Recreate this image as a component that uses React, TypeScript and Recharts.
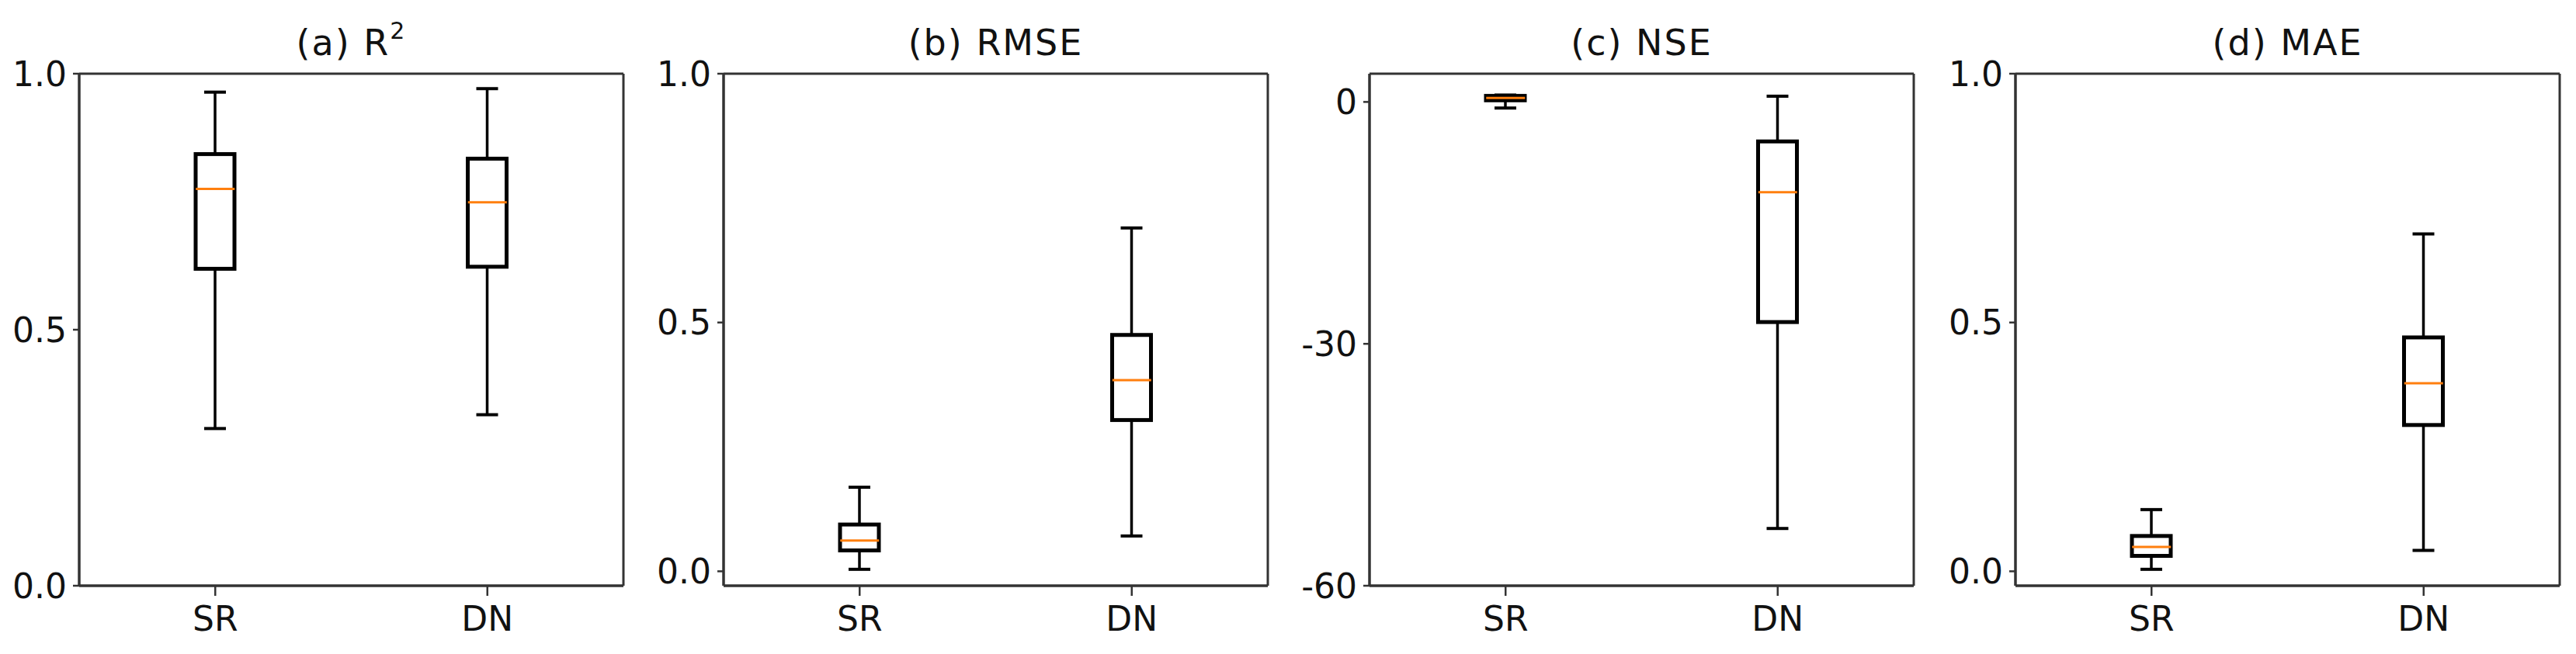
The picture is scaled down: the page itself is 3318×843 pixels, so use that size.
import { Bar, CartesianGrid, ComposedChart, Scatter, XAxis, YAxis } from "recharts"

const categories = ["SR", "DN"]

// (a) R2
const r2Low = [0.307, 0.334]
const r2Q1 = [0.619, 0.623]
const r2Median = [0.775, 0.749]
const r2Q3 = [0.843, 0.834]
const r2High = [0.964, 0.971]
const r2Ticks = [0, 0.5, 1]

// (b) RMSE
const rmseLow = [0.004, 0.071]
const rmseQ1 = [0.042, 0.304]
const rmseMedian = [0.062, 0.384]
const rmseQ3 = [0.094, 0.475]
const rmseHigh = [0.169, 0.69]
const rmseTicks = [0, 0.5, 1]

// (c) NSE
const nseLow = [-0.75, -52.9]
const nseQ1 = [0.2, -27.3]
const nseMedian = [0.5, -11.2]
const nseQ3 = [0.75, -4.9]
const nseHigh = [0.85, 0.7]
const nseTicks = [-60, -30, 0]

// (d) MAE
const maeLow = [0.004, 0.042]
const maeQ1 = [0.031, 0.294]
const maeMedian = [0.049, 0.378]
const maeQ3 = [0.071, 0.47]
const maeHigh = [0.124, 0.678]
const maeTicks = [0, 0.5, 1]

const FONT = "'DejaVu Sans', sans-serif"
const FRAME = "#333"
const BOX_W = 50
const CAP_W = 28
const Y_AXIS_W = 100
const PLOT_W = 701

type Row = { name: string; whisker: number[]; box: number[]; median: number }

function buildRows(low: number[], q1: number[], median: number[], q3: number[], high: number[]): Row[] {
  return categories.map((name, i) => ({
    name,
    whisker: [low[i], high[i]],
    box: [q1[i], q3[i]],
    median: median[i],
  }))
}

const fixed1 = (v: number) => v.toFixed(1)
const plain = (v: number) => String(v)

const panels = [
  { key: "a", label: "(a) R", sup: "2", rows: buildRows(r2Low, r2Q1, r2Median, r2Q3, r2High), domain: [0, 1], ticks: r2Ticks, fmt: fixed1, plotLeft: 102 },
  { key: "b", label: "(b) RMSE", sup: "", rows: buildRows(rmseLow, rmseQ1, rmseMedian, rmseQ3, rmseHigh), domain: [-0.029, 1], ticks: rmseTicks, fmt: fixed1, plotLeft: 932 },
  { key: "c", label: "(c) NSE", sup: "", rows: buildRows(nseLow, nseQ1, nseMedian, nseQ3, nseHigh), domain: [-60, 3.5], ticks: nseTicks, fmt: plain, plotLeft: 1764 },
  { key: "d", label: "(d) MAE", sup: "", rows: buildRows(maeLow, maeQ1, maeMedian, maeQ3, maeHigh), domain: [-0.029, 1], ticks: maeTicks, fmt: fixed1, plotLeft: 2596 },
]

function WhiskerShape(props: any) {
  const { x, y, width, height } = props
  const cx = x + width / 2
  const top = Math.min(y, y + height)
  const bottom = Math.max(y, y + height)
  return (
    <g>
      <line x1={cx} x2={cx} y1={top} y2={bottom} stroke="#000" strokeWidth={3.5} />
      <line x1={x} x2={x + width} y1={top} y2={top} stroke="#000" strokeWidth={4} />
      <line x1={x} x2={x + width} y1={bottom} y2={bottom} stroke="#000" strokeWidth={4} />
    </g>
  )
}

function BoxShape(props: any) {
  const { x, y, width, height } = props
  const top = Math.min(y, y + height)
  return (
    <rect x={x} y={top} width={width} height={Math.abs(height)} fill="#fff" stroke="#000" strokeWidth={5} />
  )
}

function MedianShape(props: any) {
  const { cx, cy } = props
  return <line x1={cx - BOX_W / 2} x2={cx + BOX_W / 2} y1={cy} y2={cy} stroke="#ff7f0e" strokeWidth={3} />
}

// frame lines on the plot edges (top/right come from here, left/bottom overlap the axes)
const frameRows = ({ offset }: any) => [offset.top, offset.top + offset.height]
const frameCols = ({ offset }: any) => [offset.left, offset.left + offset.width]

function Panel({ panel }: { panel: (typeof panels)[number] }) {
  const tick = { fontSize: 44, fill: "#111", fontFamily: FONT }
  return (
    <div style={{ position: "absolute", left: panel.plotLeft - Y_AXIS_W, top: 0 }}>
      <div
        style={{
          position: "absolute",
          left: Y_AXIS_W,
          top: 32,
          width: PLOT_W,
          textAlign: "center",
          fontSize: 46,
          lineHeight: "46px",
          letterSpacing: 2,
          color: "#111",
          fontFamily: FONT,
          whiteSpace: "nowrap",
        }}
      >
        {panel.label}
        {panel.sup && (
          <span style={{ fontSize: 30, position: "relative", top: -21 }}>{panel.sup}</span>
        )}
      </div>
      <ComposedChart
        width={Y_AXIS_W + PLOT_W + 8}
        height={843}
        data={panel.rows}
        margin={{ top: 95, right: 8, bottom: 0, left: 0 }}
      >
        <CartesianGrid
          xAxisId="main"
          yAxisId="y"
          stroke={FRAME}
          strokeWidth={3}
          horizontalCoordinatesGenerator={frameRows}
          verticalCoordinatesGenerator={frameCols}
        />
        <XAxis
          xAxisId="main"
          dataKey="name"
          height={88}
          interval={0}
          tick={tick}
          tickSize={13}
          tickMargin={14}
          axisLine={{ stroke: FRAME, strokeWidth: 3 }}
          tickLine={{ stroke: FRAME, strokeWidth: 2.5 }}
        />
        <XAxis xAxisId="box" dataKey="name" height={0} hide />
        <YAxis
          yAxisId="y"
          type="number"
          domain={panel.domain}
          ticks={panel.ticks}
          allowDataOverflow
          interval={0}
          width={Y_AXIS_W}
          tickFormatter={panel.fmt}
          tick={tick}
          tickSize={8}
          tickMargin={8}
          axisLine={{ stroke: FRAME, strokeWidth: 3 }}
          tickLine={{ stroke: FRAME, strokeWidth: 2.5 }}
        />
        <Bar xAxisId="main" yAxisId="y" dataKey="whisker" barSize={CAP_W} shape={WhiskerShape} isAnimationActive={false} />
        <Bar xAxisId="box" yAxisId="y" dataKey="box" barSize={BOX_W} shape={BoxShape} isAnimationActive={false} />
        <Scatter xAxisId="box" yAxisId="y" dataKey="median" shape={MedianShape} isAnimationActive={false} />
      </ComposedChart>
    </div>
  )
}

export default function App() {
  return (
    <div
      style={{
        position: "absolute",
        left: 0,
        top: 0,
        width: 3318,
        height: 843,
        background: "#fff",
        fontFamily: FONT,
      }}
    >
      {panels.map((p) => (
        <Panel key={p.key} panel={p} />
      ))}
    </div>
  )
}
